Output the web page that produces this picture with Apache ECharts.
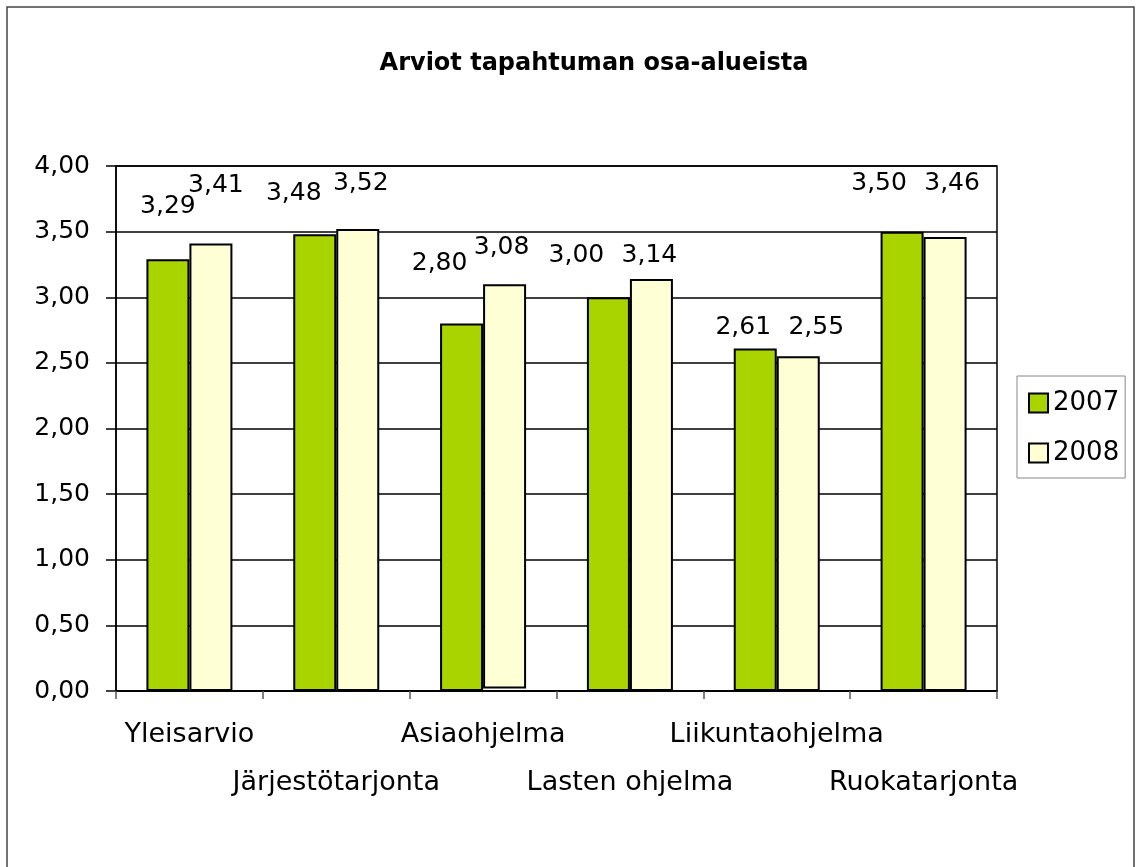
<!DOCTYPE html>
<html>
<head>
  <meta charset="utf-8">
  <title>Arviot tapahtuman osa-alueista</title>
  <script src="https://cdn.jsdelivr.net/npm/echarts@6/dist/echarts.min.js"></script>
  <style>
    html, body { margin: 0; padding: 0; background: #fff; }
    #main { width: 1136px; height: 867px; }
  </style>
</head>
<body>
  <div id="main"></div>
  <script type="text/javascript">
    // data
    var categories = ['Yleisarvio', 'Järjestötarjonta', 'Asiaohjelma', 'Lasten ohjelma', 'Liikuntaohjelma', 'Ruokatarjonta'];
    var values2007 = [3.29, 3.48, 2.80, 3.00, 2.61, 3.50];
    var values2008 = [3.41, 3.52, 3.08, 3.14, 2.55, 3.46];
    // the 2008 Asiaohjelma bar floats a little above the axis in the original
    var base2008 = [0, 0, 0.02, 0, 0, 0];
    var yTicks = [0, 0.5, 1, 1.5, 2, 2.5, 3, 3.5, 4];

    // label nudges (the labels were hand placed in the original chart)
    var nudge2007 = [[0, -40], [-21, -28], [-22, -48], [-32, -29], [-12, -8], [-23, -36]];
    var nudge2008 = [[5, -45], [3, -33], [-3, -24], [-2, -11], [18, -16], [7, -41]];

    var FONT = 'DejaVu Sans';

    function fmt(v) {
      return v.toFixed(2).replace('.', ',');
    }

    function withLabels(vals, nudges) {
      return vals.map(function (v, i) {
        return { value: v, label: { offset: nudges[i] } };
      });
    }

    var myChart = echarts.init(document.getElementById('main'), null, { renderer: 'canvas' });

    var labelStyle = {
      show: true,
      position: 'top',
      distance: 0,
      fontFamily: FONT,
      fontSize: 25,
      color: '#000',
      formatter: function (p) { return fmt(p.value); }
    };

    var option = {
      backgroundColor: '#fff',
      animation: false,
      title: {
        text: 'Arviot tapahtuman osa-alueista',
        left: 594,
        textAlign: 'center',
        top: 52,
        padding: 0,
        textStyle: { fontFamily: FONT, fontSize: 24, fontWeight: 'bold', color: '#000' }
      },
      legend: {
        data: ['2007', '2008'],
        orient: 'vertical',
        left: 1017,
        top: 376,
        padding: [12, 6, 10, 11],
        itemGap: 20,
        itemWidth: 19,
        itemHeight: 19,
        itemTextGap: 9,
        icon: 'rect',
        borderColor: '#888',
        borderWidth: 1,
        backgroundColor: '#fff',
        textStyle: { fontFamily: FONT, fontSize: 26, color: '#000', lineHeight: 30 }
      },
      grid: {
        left: 116,
        right: 139,
        top: 166,
        bottom: 176,
        show: true,
        borderColor: '#000',
        borderWidth: 1.5,
        backgroundColor: 'transparent'
      },
      xAxis: {
        type: 'category',
        data: categories,
        axisLine: { lineStyle: { color: '#000', width: 1.5 } },
        axisTick: { show: true, length: 8, lineStyle: { color: '#555', width: 1.5 } },
        axisLabel: {
          interval: 0,
          margin: 20,
          fontFamily: FONT,
          fontSize: 27,
          lineHeight: 48,
          color: '#000',
          formatter: function (v, i) { return i % 2 ? '\n' + v : v; }
        }
      },
      yAxis: {
        type: 'value',
        min: yTicks[0],
        max: yTicks[yTicks.length - 1],
        interval: yTicks[1] - yTicks[0],
        axisLine: { show: true, lineStyle: { color: '#000', width: 1.5 } },
        axisTick: { show: true, length: 10, lineStyle: { color: '#000', width: 1.5 } },
        splitLine: { lineStyle: { color: '#000', width: 1.5 } },
        axisLabel: {
          margin: 26,
          fontFamily: FONT,
          fontSize: 25,
          color: '#000',
          formatter: function (v) { return fmt(v); }
        }
      },
      series: [{
        name: '2007',
        type: 'bar',
        barWidth: 43,
        barGap: '0%',
        data: withLabels(values2007, nudge2007),
        itemStyle: { color: '#AAD400', borderColor: '#000', borderWidth: 2 },
        label: labelStyle
      }, {
        name: 'base',
        type: 'bar',
        stack: 'y2008',
        barWidth: 43,
        data: base2008,
        silent: true,
        itemStyle: { color: 'transparent', borderWidth: 0 },
        label: { show: false }
      }, {
        name: '2008',
        type: 'bar',
        stack: 'y2008',
        barWidth: 43,
        data: withLabels(values2008, nudge2008),
        itemStyle: { color: '#FFFFD6', borderColor: '#000', borderWidth: 2 },
        label: labelStyle
      }],
      graphic: [{
        type: 'rect',
        shape: { x: 7, y: 7, width: 1127, height: 870 },
        style: { fill: 'none', stroke: '#444', lineWidth: 1.5 },
        silent: true
      }]
    };

    myChart.setOption(option);
  </script>
</body>
</html>
